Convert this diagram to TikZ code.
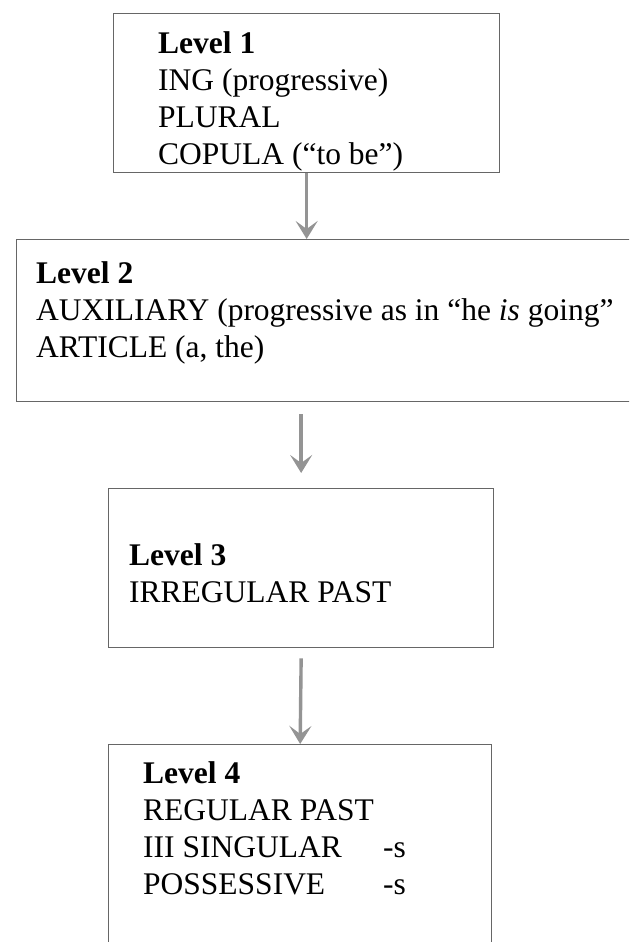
\documentclass[tikz,border=0pt]{standalone}
\usepackage{fontspec}
\setmainfont{Liberation Serif}
\usetikzlibrary{positioning, arrows.meta}

\tikzset{
  levelbox/.style={draw=black!60, line width=1.3pt, inner sep=0pt, anchor=north west},
  leveltext/.style={align=left, inner sep=0pt, anchor=base west, font=\fontsize{31.5}{37}\selectfont},
  flow/.style={draw=black!42, line width=3.4pt, -{Stealth[length=18pt, width=22pt, inset=8pt]}}
}

\begin{document}
\begin{tikzpicture}[x=1pt, y=-1pt]

    % --- Page ---
    \clip (0,0) rectangle (629,942);
    \fill[white] (0,0) rectangle (629,942);

    % --- Level boxes ---
    \node[levelbox, minimum width=386pt, minimum height=159pt] (lv1) at (113,13) {};
    \node[levelbox, minimum width=660pt, minimum height=162pt] (lv2) at (16,239) {};
    \node[levelbox, minimum width=385pt, minimum height=159pt] (lv3) at (108,488) {};
    \node[levelbox, minimum width=383pt, minimum height=250pt] (lv4) at (108,744) {};

    % --- Texts (placed at the baseline of their last line) ---
    \node[leveltext] (lv1txt) at (158,164) {\textbf{Level 1}\\ING (progressive)\\PLURAL\\COPULA (“to be”)};
    \node[leveltext] (lv2txt) at (36,357) {\textbf{Level 2}\\AUXILIARY (progressive as in “he \textit{is} going”\\ARTICLE (a, the)};
    \node[leveltext] (lv3txt) at (129,602) {\textbf{Level 3}\\IRREGULAR PAST};
    \node[leveltext] (lv4txt) at (143,894) {\textbf{Level 4}\\REGULAR PAST\\\makebox[240pt][l]{III SINGULAR}-s\\\makebox[240pt][l]{POSSESSIVE}-s};

    % --- Arrows ---
    \draw[flow] (lv1.south) -- (lv1.south |- lv2.north);
    \path (lv3.north |- lv2.south) ++(0,12) coordinate (a2top);
    \path (lv3.north) ++(0,-15) coordinate (a2end);
    \draw[flow] (a2top) -- (a2end);
    \path (lv3.south) ++(0,10) coordinate (a3top);
    \draw[flow] (a3top) -- (lv4.north);

\end{tikzpicture}
\end{document}
